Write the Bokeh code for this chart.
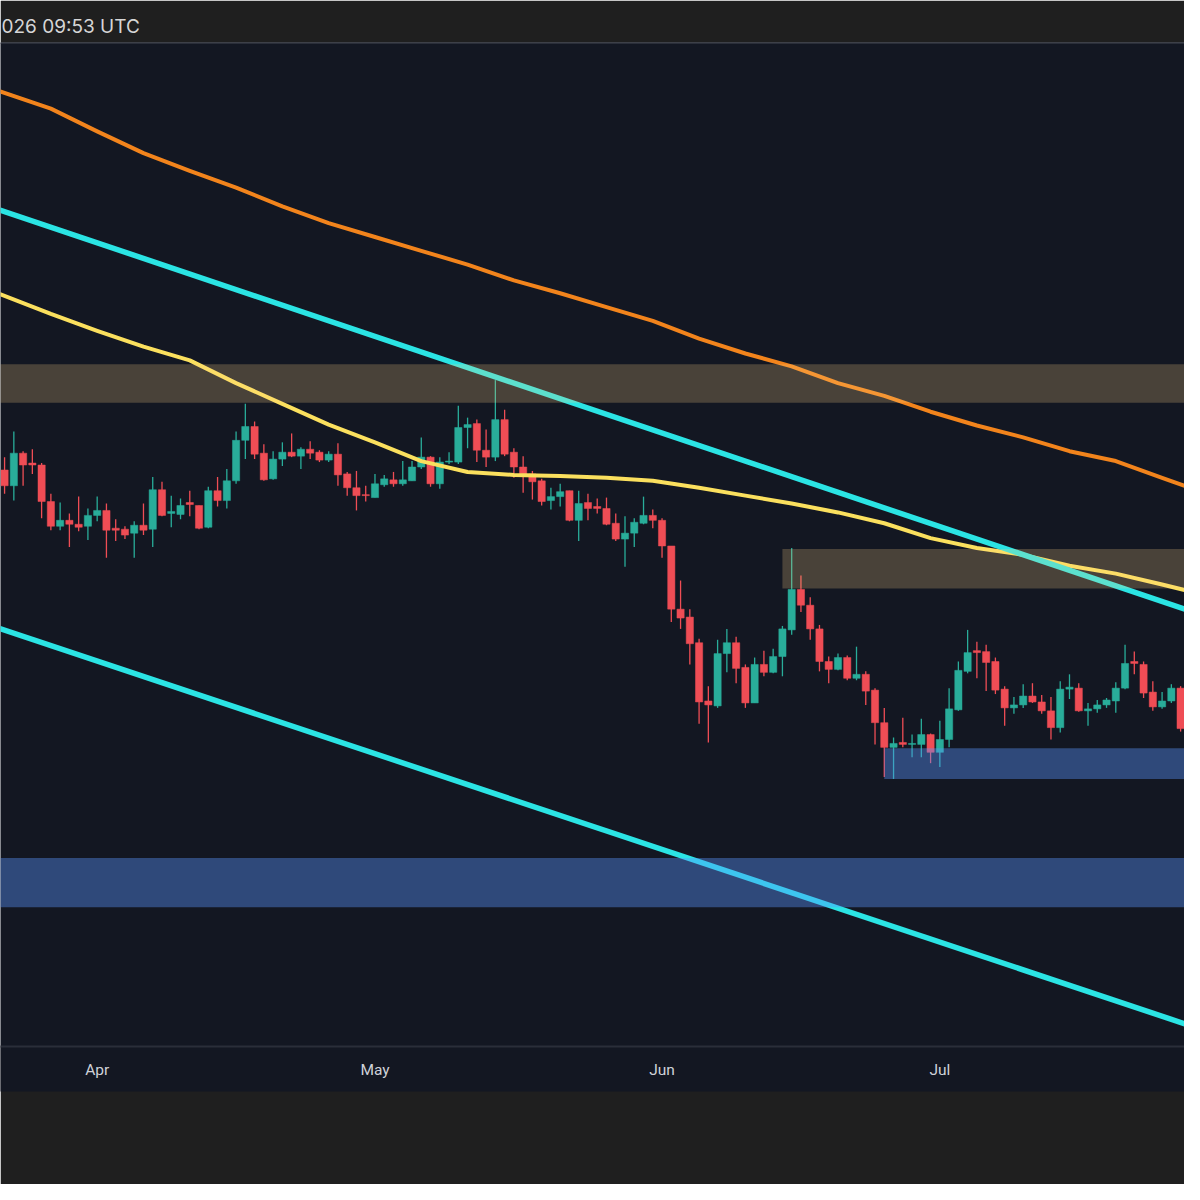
import numpy as np
import pandas as pd
from bokeh.plotting import figure
from bokeh.models import Range1d, FixedTicker, DatetimeTickFormatter, ColumnDataSource, Span
from bokeh.embed import file_html
from bokeh.resources import INLINE

# ---------------- data ----------------
dates = pd.date_range("2026-03-22", periods=128, freq="D")

opens = [624, 608, 641, 631, 629, 592, 567, 573, 569, 567, 578, 583, 565, 564, 560, 568, 564, 604, 580, 579,
         591, 588, 566, 603, 593, 613, 654, 668, 641, 615, 635, 642, 638, 645, 642, 634, 640, 620, 606, 599,
         596, 609, 614, 610, 613, 627, 637, 610, 632, 632, 667, 671, 644, 637, 675, 642, 627, 620, 613, 593,
         597, 603, 573, 591, 587, 585, 570, 554, 560, 570, 578, 573, 547, 483, 475, 449, 390, 385, 438, 449,
         424, 388, 427, 419, 435, 462, 503, 487, 463, 430, 422, 434, 413, 417, 401, 368, 343, 348, 346, 346,
         356, 338, 351, 381, 420, 441, 440, 430, 402, 383, 386, 395, 389, 380, 363, 402, 403, 380, 382, 386,
         390, 403, 430, 427, 399, 384, 390, 403]
highs = [637, 663, 643, 645, 631, 600, 591, 580, 597, 585, 597, 590, 574, 567, 572, 590, 617, 612, 598, 595,
         603, 588, 607, 617, 625, 663, 691, 673, 650, 643, 652, 661, 647, 653, 644, 643, 651, 622, 623, 608,
         620, 619, 622, 633, 633, 657, 638, 637, 642, 689, 677, 675, 665, 715, 685, 646, 638, 623, 615, 606,
         610, 603, 603, 600, 595, 596, 580, 577, 575, 597, 584, 575, 547, 512, 483, 453, 405, 452, 463, 455,
         427, 434, 441, 443, 466, 545, 517, 495, 467, 435, 438, 436, 445, 420, 403, 383, 353, 373, 356, 372,
         357, 370, 403, 430, 462, 450, 447, 434, 405, 394, 407, 408, 396, 394, 410, 417, 408, 388, 391, 393,
         409, 447, 440, 430, 410, 399, 407, 405]
lows = [600, 593, 608, 620, 575, 563, 563, 546, 562, 553, 572, 535, 552, 554, 535, 558, 546, 577, 566, 574,
        577, 564, 565, 587, 585, 610, 635, 635, 613, 614, 628, 637, 625, 635, 632, 632, 608, 598, 583, 592,
        596, 607, 607, 608, 613, 625, 607, 605, 630, 630, 646, 632, 627, 633, 638, 616, 601, 594, 588, 584,
        587, 572, 552, 573, 580, 568, 552, 526, 546, 569, 565, 535, 470, 463, 427, 367, 348, 383, 419, 408,
        383, 388, 415, 418, 415, 457, 480, 452, 420, 408, 421, 411, 411, 386, 346, 313, 311, 343, 333, 333,
        327, 323, 343, 380, 418, 413, 400, 397, 365, 377, 383, 388, 377, 351, 358, 392, 379, 365, 378, 383,
        378, 402, 417, 393, 380, 382, 388, 359]
closes = [608, 641, 629, 629, 592, 567, 573, 569, 566, 578, 583, 563, 563, 558, 568, 563, 604, 578, 582, 588,
          589, 565, 603, 593, 613, 654, 668, 640, 614, 635, 642, 638, 645, 641, 634, 640, 619, 606, 598, 598,
          610, 615, 610, 614, 627, 637, 610, 632, 633, 667, 670, 644, 637, 675, 640, 627, 620, 612, 592, 597,
          602, 573, 590, 585, 585, 569, 554, 560, 571, 578, 573, 547, 483, 474, 448, 389, 386, 438, 449, 423,
          388, 427, 419, 435, 463, 503, 487, 463, 430, 422, 434, 413, 417, 400, 368, 343, 347, 346, 347, 356,
          338, 351, 382, 421, 439, 439, 429, 401, 383, 386, 395, 389, 380, 363, 402, 404, 380, 382, 386, 391,
          403, 428, 428, 398, 384, 390, 403, 362]

# moving averages, read at sampled dates
ma_dates = pd.to_datetime([
    "2026-03-21", "2026-03-27", "2026-04-01", "2026-04-06", "2026-04-11", "2026-04-16", "2026-04-21",
    "2026-04-26", "2026-05-01", "2026-05-06", "2026-05-11", "2026-05-16", "2026-05-21", "2026-05-26",
    "2026-05-31", "2026-06-05", "2026-06-10", "2026-06-15", "2026-06-20", "2026-06-25", "2026-06-30",
    "2026-07-05", "2026-07-10", "2026-07-15", "2026-07-20", "2026-07-25", "2026-07-28"])
ma_slow = [1009, 990, 967, 945, 927, 910, 891, 874, 860, 846, 832, 816, 803, 789, 775, 757, 742, 729, 712,
           699, 683, 669, 657, 643, 633, 616, 606]
ma_fast = [804, 782, 765, 749, 735, 712, 691, 670, 652, 633, 622, 619, 618, 616, 613, 606, 598, 590, 581,
           570, 555, 545, 538, 527, 519, 508, 501]

# descending channel (two anchor points each)
channel_dates = pd.to_datetime(["2026-03-20", "2026-07-30"])
channel_upper = [892, 475]
channel_lower = [468, 55]

# supply / demand zones
zone_left = pd.to_datetime(["2026-03-01", "2026-06-14", "2026-06-25", "2026-03-01"])
zone_right = pd.to_datetime(["2026-08-31", "2026-08-31", "2026-08-31", "2026-08-31"])
zone_top = [731, 544, 342, 231]
zone_bottom = [692, 504, 311, 181]
zone_kind = ["supply", "supply", "demand", "demand"]

month_ticks = pd.to_datetime(["2026-04-01", "2026-05-01", "2026-06-01", "2026-07-01"])
header_text = "026 09:53 UTC"

# ---------------- styling ----------------
BG = "#131722"
BAR = "#1f1f1f"
UP = "#29ad9a"
DOWN = "#ef4d55"
DAY = 86400000.0

def ms(ts):
    return pd.Timestamp(ts).value / 1e6

W, H = 1184, 1184
p = figure(width=W, height=H, x_axis_type="datetime", y_axis_location=None,
           output_backend="svg", toolbar_location=None,
           min_border_left=0, min_border_right=0, min_border_top=42, min_border_bottom=138,
           background_fill_color=BG, border_fill_color=BAR)
p.x_range = Range1d(ms(dates[0]) - 0.44 * DAY, ms(dates[-1]) + 0.42 * DAY)
p.y_range = Range1d(40, 1057)
p.grid.visible = False
p.outline_line_color = None

p.title.text = header_text
p.title.text_font = "Inter"
p.title.text_font_size = "19px"
p.title.text_font_style = "normal"
p.title.text_color = "#d6d6d6"
p.title.align = "left"
p.title.offset = 1
p.title.standoff = 9

ax = p.xaxis[0]
ax.ticker = FixedTicker(ticks=[ms(t) for t in month_ticks])
fmt = "%b"
ax.formatter = DatetimeTickFormatter(milliseconds=fmt, seconds=fmt, minsec=fmt, minutes=fmt,
                                     hourmin=fmt, hours=fmt, days=fmt, months=fmt, years=fmt)
ax.major_tick_line_color = None
ax.minor_tick_line_color = None
ax.major_tick_out = 0
ax.axis_line_color = "#2a2e39"
ax.axis_line_width = 2
ax.major_label_text_font = "Roboto"
ax.major_label_text_font_size = "15.5px"
ax.major_label_text_color = "#cfd2d9"
ax.major_label_standoff = 14
ax.axis_label = " "
ax.axis_label_text_font_size = "7px"
ax.axis_label_standoff = 0
ax.background_fill_color = BG

# top separator
p.add_layout(Span(location=1056.6, dimension="width", line_color="#2a2e39", line_width=2))

# candles
o = np.array(opens, dtype=float)
c = np.array(closes, dtype=float)
src = ColumnDataSource(dict(
    x=dates, high=highs, low=lows,
    top=np.maximum(o, c), bottom=np.minimum(o, c),
    color=[UP if cc >= oo else DOWN for oo, cc in zip(o, c)],
))
p.segment(x0="x", y0="high", x1="x", y1="low", line_color="color", line_width=1.3, source=src)
p.vbar(x="x", width=0.78 * DAY, top="top", bottom="bottom", fill_color="color",
       line_color="color", line_width=0.5, source=src)

# moving averages
p.line(ma_dates, ma_slow, line_color="#f2841c", line_width=4, line_join="round")
p.line(ma_dates, ma_fast, line_color="#fbe05e", line_width=4, line_join="round")

# channel
p.line(channel_dates, channel_upper, line_color="#2be4e4", line_width=5.5)
p.line(channel_dates, channel_lower, line_color="#2be4e4", line_width=5.5)

# zones (translucent, drawn on top)
zsrc = ColumnDataSource(dict(
    left=zone_left, right=zone_right, top=zone_top, bottom=zone_bottom,
    fill=["#ffd286" if k == "supply" else "#5996fe" for k in zone_kind],
    alpha=[0.23 if k == "supply" else 0.4 for k in zone_kind],
))
p.quad(left="left", right="right", top="top", bottom="bottom", fill_color="fill",
       fill_alpha="alpha", line_color=None, source=zsrc)

open("out.html", "w").write(file_html(p, INLINE))
